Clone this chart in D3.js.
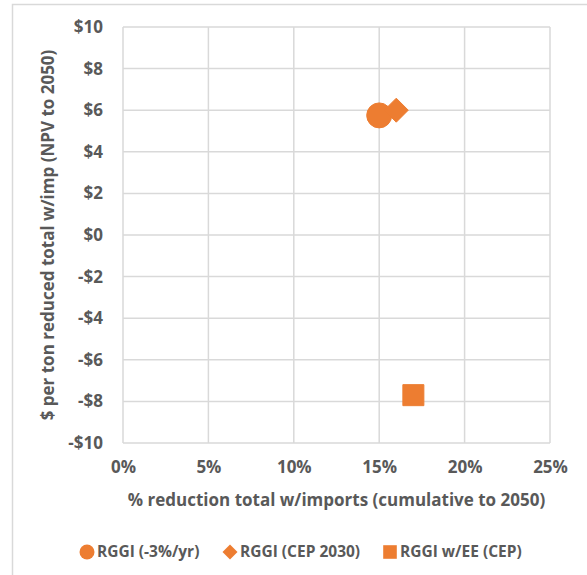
<!DOCTYPE html>
<html><head><meta charset="utf-8">
<script src="https://cdn.jsdelivr.net/npm/d3@7"></script>
<style>body{margin:0;background:#fff}svg{display:block}</style>
</head><body>
<script>
const seriesNames = ["RGGI (-3%/yr)", "RGGI (CEP 2030)", "RGGI w/EE (CEP)"];
const seriesShapes = ["circle", "diamond", "square"];
const xValues = [0.150, 0.160, 0.170];
const yValues = [5.75, 6.0, -7.7];
const xTicks = [0, 0.05, 0.10, 0.15, 0.20, 0.25];
const yTicks = [-10, -8, -6, -4, -2, 0, 2, 4, 6, 8, 10];
const xTitle = "% reduction total w/imports (cumulative to 2050)";
const yTitle = "$ per ton reduced total w/imp (NPV to 2050)";

const W = 587, H = 575;
const color = "#ED7D31", textColor = "#595959", gridColor = "#d9d9d9";
const font = "'Open Sans', Lato, sans-serif";
const m = {left: 123, right: 550, top: 27, bottom: 443};

const svg = d3.select("body").append("svg").attr("width", W).attr("height", H);
svg.append("rect").attr("x", 12.5).attr("y", 4.5).attr("width", 700).attr("height", 700)
  .attr("fill", "none").attr("stroke", gridColor).attr("stroke-width", 1.5);

const x = d3.scaleLinear().domain([0, 0.25]).range([m.left, m.right]);
const y = d3.scaleLinear().domain([-10, 10]).range([m.bottom, m.top]);

// grid
const g = svg.append("g");
g.selectAll(".vx").data(xTicks).join("line")
  .attr("x1", d => x(d)).attr("x2", d => x(d)).attr("y1", m.top).attr("y2", m.bottom)
  .attr("stroke", gridColor).attr("stroke-width", 1.5);
g.selectAll(".hy").data(yTicks).join("line")
  .attr("x1", m.left).attr("x2", m.right).attr("y1", d => y(d)).attr("y2", d => y(d))
  .attr("stroke", gridColor).attr("stroke-width", 1.5);

// axes (labels only)
const xAxis = d3.axisBottom(x).tickValues(xTicks).tickFormat(d3.format(".0%")).tickSize(0).tickPadding(18);
const yAxis = d3.axisLeft(y).tickValues(yTicks).tickFormat(d => (d < 0 ? "-$" : "$") + Math.abs(d)).tickSize(0).tickPadding(20);
const ga = svg.append("g").attr("transform", `translate(0,${m.bottom})`).call(xAxis);
const gy = svg.append("g").attr("transform", `translate(${m.left},0)`).call(yAxis);
[ga, gy].forEach(a => {
  a.select(".domain").remove();
  a.selectAll("text").attr("fill", textColor).style("font-family", font)
    .style("font-size", "17px").style("font-weight", "bold");
});
ga.selectAll("text").attr("dy", "0.71em");

// titles
svg.append("text").attr("x", (m.left + m.right) / 2).attr("y", 506)
  .attr("text-anchor", "middle").attr("fill", textColor)
  .style("font-family", font).style("font-size", "17px").style("font-weight", "bold")
  .text(xTitle);
svg.append("text").attr("transform", `translate(54,${(m.top + m.bottom) / 2}) rotate(-90)`)
  .attr("text-anchor", "middle").attr("fill", textColor)
  .style("font-family", font).style("font-size", "17px").style("font-weight", "bold")
  .text(yTitle);

// markers
function shapePath(shape, r) {
  if (shape === "circle") return d3.symbol().type(d3.symbolCircle).size(Math.PI * r * r)();
  if (shape === "diamond") {
    const p = d3.path();
    p.moveTo(0, -r); p.lineTo(r, 0); p.lineTo(0, r); p.lineTo(-r, 0); p.closePath();
    return p.toString();
  }
  return d3.symbol().type(d3.symbolSquare).size(4 * r * r)();
}
const radii = {circle: 12.5, diamond: 12, square: 10.5};
const pts = seriesNames.map((n, i) => ({name: n, shape: seriesShapes[i], x: xValues[i], y: yValues[i]}));
svg.selectAll(".pt").data(pts).join("path")
  .attr("transform", d => `translate(${x(d.x)},${y(d.y)})`)
  .attr("d", d => shapePath(d.shape, radii[d.shape]))
  .attr("fill", color).attr("stroke", color).attr("stroke-width", 1).attr("stroke-linejoin", "round");

// legend
const legX = [87, 230, 390];
const lradii = {circle: 7.5, diamond: 7.5, square: 6.8};
const lg = svg.selectAll(".leg").data(pts).join("g")
  .attr("transform", (d, i) => `translate(${legX[i]},552)`);
lg.append("path").attr("d", d => shapePath(d.shape, lradii[d.shape])).attr("fill", color);
lg.append("text").attr("x", 10).attr("dy", "0.35em").attr("fill", textColor)
  .style("font-family", font).style("font-size", "15.5px").style("font-weight", "bold")
  .text(d => d.name);
</script>
</body></html>
